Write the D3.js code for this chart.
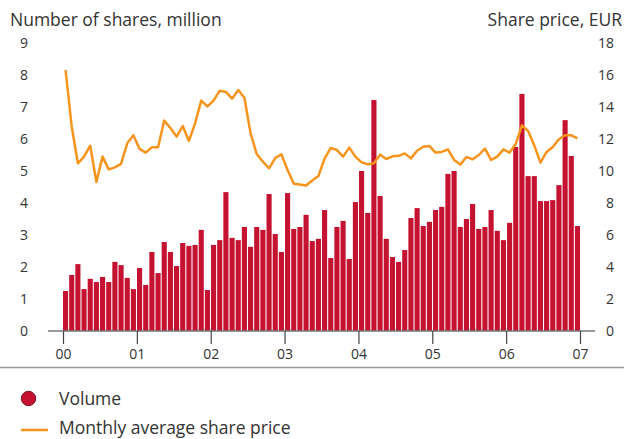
<!DOCTYPE html>
<html>
<head>
<meta charset="utf-8">
<script src="https://cdn.jsdelivr.net/npm/d3@7"></script>
<style>
  body { margin: 0; background: #fff; }
  svg { display: block; font-family: "Open Sans", sans-serif; }
  .tick text { fill: #333; }
</style>
</head>
<body>
<script>
// monthly trading volume, million shares (Jan 2000 - Dec 2006)
var volume = [
  1.25, 1.75, 2.09, 1.31, 1.63, 1.53, 1.69, 1.53, 2.16, 2.06, 1.66, 1.31,
  1.97, 1.44, 2.47, 1.81, 2.78, 2.47, 2.03, 2.75, 2.66, 2.69, 3.16, 1.28,
  2.69, 2.84, 4.34, 2.91, 2.84, 3.25, 2.63, 3.25, 3.16, 4.28, 3.03, 2.47,
  4.31, 3.19, 3.25, 3.63, 2.81, 2.88, 3.78, 2.28, 3.25, 3.44, 2.25, 4.03,
  5.00, 3.69, 7.22, 4.22, 2.88, 2.31, 2.16, 2.53, 3.53, 3.84, 3.28, 3.41,
  3.78, 3.88, 4.91, 5.00, 3.25, 3.50, 3.97, 3.19, 3.25, 3.78, 3.13, 2.84,
  3.38, 5.75, 7.41, 4.84, 4.84, 4.06, 4.06, 4.09, 4.56, 6.59, 5.47, 3.28
];

// monthly average share price, EUR
var price = [
  16.3, 12.77, 10.48, 10.9, 11.58, 9.31, 10.9, 10.1, 10.23, 10.44, 11.73, 12.23,
  11.38, 11.15, 11.48, 11.48, 13.15, 12.69, 12.15, 12.81, 11.88, 12.98, 14.4, 14.04,
  14.4, 15.02, 14.94, 14.52, 15.06, 14.58, 12.35, 11.06, 10.58, 10.17, 10.81, 11.04,
  10.06, 9.21, 9.15, 9.1, 9.4, 9.69, 10.77, 11.44, 11.31, 10.9, 11.46, 10.9,
  10.54, 10.42, 10.48, 11.02, 10.75, 10.92, 10.95, 11.1, 10.79, 11.27, 11.52, 11.56,
  11.15, 11.19, 11.35, 10.69, 10.4, 10.88, 10.73, 11.0, 11.4, 10.69, 10.9, 11.35,
  11.15, 11.69, 12.85, 12.5, 11.6, 10.52, 11.19, 11.5, 11.98, 12.23, 12.23, 12.04
];

var yearLabels = ["00", "01", "02", "03", "04", "05", "06", "07"];
var volTicks = [0, 1, 2, 3, 4, 5, 6, 7, 8, 9];
var priceTicks = [0, 2, 4, 6, 8, 10, 12, 14, 16, 18];

var width = 624, height = 439;

var svg = d3.select("body").append("svg")
    .attr("width", width)
    .attr("height", height);

// month index scale
var months = d3.range(volume.length);
var x = d3.scaleBand()
    .domain(months)
    .range([63, 580])
    .paddingInner(0.17)
    .paddingOuter(0)
    .align(0);

// year tick positions
var xYear = d3.scaleLinear()
    .domain([0, 7])
    .range([63, 580]);

var yVol = d3.scaleLinear().domain([0, 9]).range([331, 43]);
var yPrice = d3.scaleLinear().domain([0, 18]).range([331, 43]);

// axis titles
svg.append("text")
    .attr("x", 10).attr("y", 26)
    .attr("font-size", 17.5)
    .attr("fill", "#333")
    .text("Number of shares, million");

svg.append("text")
    .attr("x", 622).attr("y", 26)
    .attr("text-anchor", "end")
    .attr("font-size", 17.5)
    .attr("fill", "#333")
    .text("Share price, EUR");

// left axis labels
svg.append("g")
    .selectAll("text")
    .data(volTicks)
    .enter().append("text")
    .attr("x", 28)
    .attr("y", function(d){ return yVol(d) + 5; })
    .attr("text-anchor", "end")
    .attr("font-size", 14)
    .attr("fill", "#333")
    .text(function(d){ return d; });

// right axis labels
svg.append("g")
    .selectAll("text")
    .data(priceTicks)
    .enter().append("text")
    .attr("x", 614)
    .attr("y", function(d){ return yPrice(d) + 5; })
    .attr("text-anchor", "end")
    .attr("font-size", 14)
    .attr("fill", "#333")
    .text(function(d){ return d; });

// volume bars
svg.append("g")
    .selectAll("rect")
    .data(volume)
    .enter().append("rect")
    .attr("x", function(d, i){ return x(i); })
    .attr("width", x.bandwidth())
    .attr("y", function(d){ return yVol(d); })
    .attr("height", function(d){ return yVol(0) - yVol(d); })
    .attr("fill", "#c41230");

// baseline
svg.append("line")
    .attr("x1", 48).attr("x2", 595)
    .attr("y1", 331).attr("y2", 331)
    .attr("stroke", "#777")
    .attr("stroke-width", 1.5);

// year ticks
var xAxis = d3.axisBottom(xYear)
    .tickValues(d3.range(8))
    .tickSize(13)
    .tickPadding(5)
    .tickFormat(function(d){ return yearLabels[d]; });

var axis = svg.append("g")
    .attr("transform", "translate(0,331)")
    .call(xAxis);
axis.select(".domain").remove();
axis.selectAll(".tick line").attr("stroke", "#444").attr("stroke-width", 1.2);
axis.selectAll(".tick text")
    .attr("font-size", 14)
    .attr("font-family", "Open Sans, sans-serif");

// share price line
var line = d3.line()
    .x(function(d, i){ return x(i) + x.bandwidth() / 2; })
    .y(function(d){ return yPrice(d); });

svg.append("path")
    .datum(price)
    .attr("d", line)
    .attr("fill", "none")
    .attr("stroke", "#f7941d")
    .attr("stroke-width", 2.5)
    .attr("stroke-linejoin", "round");

// separator
svg.append("line")
    .attr("x1", 0).attr("x2", width)
    .attr("y1", 367.5).attr("y2", 367.5)
    .attr("stroke", "#999")
    .attr("stroke-width", 1.5);

// legend
svg.append("circle")
    .attr("cx", 28.5).attr("cy", 398.5).attr("r", 7.2)
    .attr("fill", "#c41230")
    .attr("stroke", "#7a1020")
    .attr("stroke-width", 1);

svg.append("text")
    .attr("x", 59).attr("y", 405)
    .attr("font-size", 17.5)
    .attr("fill", "#333")
    .text("Volume");

svg.append("line")
    .attr("x1", 21).attr("x2", 48)
    .attr("y1", 430).attr("y2", 430)
    .attr("stroke", "#f7941d")
    .attr("stroke-width", 2.5);

svg.append("text")
    .attr("x", 59).attr("y", 434)
    .attr("font-size", 17.5)
    .attr("fill", "#333")
    .text("Monthly average share price");
</script>
</body>
</html>
